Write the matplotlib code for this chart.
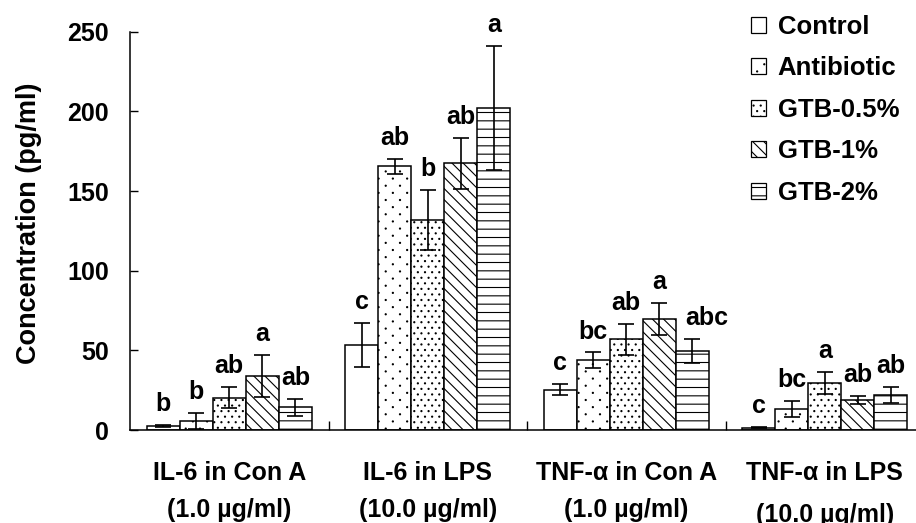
import numpy as np
import matplotlib
matplotlib.use("Agg")
import matplotlib.pyplot as plt
import matplotlib.hatch as mhatch
from matplotlib.path import Path
from matplotlib.patches import Patch

plt.rcParams['font.family'] = ['Liberation Sans', 'DejaVu Sans']
plt.rcParams['font.weight'] = 'bold'
plt.rcParams['hatch.linewidth'] = 0.8


class DotLattice(mhatch.HatchPatternBase):
    """Staggered dot pattern: '.' sparse, '..' dense."""
    def __init__(self, hatch, density):
        n = hatch.count('.')
        if n == 1:
            self.rows, self.cols = 14, 7
        elif n >= 2:
            self.rows, self.cols = 18, 14
        else:
            self.rows, self.cols = 0, 0
        circ = Path.unit_circle()
        self.cv, self.cc = circ.vertices, circ.codes
        pts = []
        if self.rows > 0:
            for r in range(self.rows + 1):
                y = r / self.rows
                if r % 2 == 0:
                    xs_ = np.linspace(0, 1, self.cols + 1)
                else:
                    xs_ = (np.arange(self.cols) + 0.5) / self.cols
                pts += [(x, y) for x in xs_]
        self.pts = pts
        self.num_vertices = len(pts) * len(self.cv)

    def set_vertices_and_codes(self, vertices, codes):
        k = len(self.cv)
        rad = 0.0055
        for i, (x, y) in enumerate(self.pts):
            vertices[i * k:(i + 1) * k] = self.cv * rad + (x, y)
            codes[i * k:(i + 1) * k] = self.cc


mhatch._hatch_types = [t for t in mhatch._hatch_types
                       if t is not mhatch.SmallFilledCircles] + [DotLattice]

groups = ["IL-6 in Con A\n(1.0 µg/ml)", "IL-6 in LPS\n(10.0 µg/ml)",
          "TNF-α in Con A\n(1.0 µg/ml)", "TNF-α in LPS\n(10.0 µg/ml)"]
series = ["Control", "Antibiotic", "GTB-0.5%", "GTB-1%", "GTB-2%"]

control = [2.5, 53.3, 25.3, 1.5]
antibiotic = [5.6, 165.4, 43.7, 13.2]
gtb05 = [20.3, 131.7, 56.9, 29.5]
gtb1 = [34.0, 167.5, 69.8, 18.8]
gtb2 = [14.2, 202.2, 49.4, 22.0]

control_err = [0.8, 13.7, 3.5, 0.5]
antibiotic_err = [5.0, 5.0, 5.0, 5.0]
gtb05_err = [6.5, 19.0, 9.7, 7.2]
gtb1_err = [13.0, 16.0, 10.0, 2.5]
gtb2_err = [5.5, 39.0, 7.5, 4.8]

control_sig = ["b", "c", "c", "c"]
antibiotic_sig = ["b", "ab", "bc", "bc"]
gtb05_sig = ["ab", "b", "ab", "a"]
gtb1_sig = ["a", "ab", "a", "ab"]
gtb2_sig = ["ab", "a", "abc", "ab"]

values = [control, antibiotic, gtb05, gtb1, gtb2]
errors = [control_err, antibiotic_err, gtb05_err, gtb1_err, gtb2_err]
sigs = [control_sig, antibiotic_sig, gtb05_sig, gtb1_sig, gtb2_sig]
hatches = ["", ".", "..", "\\\\\\", "--"]

W, H = 916, 523
fig = plt.figure(figsize=(W / 100, H / 100), dpi=100)
x0, unit = 130.0, 198.5
ax = fig.add_axes([x0 / W, (H - 430) / H, 4 * unit / W, (430 - 31.7) / H])

bw = 1 / 6
xs = np.arange(len(groups)) + 0.5
for i, (vals, errs, sg, hat) in enumerate(zip(values, errors, sigs, hatches)):
    pos = xs + (i - 2) * bw
    ax.bar(pos, vals, width=bw, color="white", edgecolor="black",
           linewidth=1.1, hatch=hat, label=series[i], zorder=2)
    ax.errorbar(pos, vals, yerr=errs, fmt="none", ecolor="black",
                elinewidth=1.2, capsize=5.5, capthick=1.2, zorder=3)
    for p, v, e, s in zip(pos, vals, errs, sg):
        dx = 10 if s == "abc" else 0
        ax.annotate(s, (p, v + e), xytext=(dx, 10), textcoords="offset points",
                    ha="center", va="baseline", fontsize=18, fontweight="bold")

ax.set_xlim(0, 4)
ax.set_ylim(0, 250)
ax.set_yticks([0, 50, 100, 150, 200, 250])
ax.tick_params(axis="y", direction="in", length=6, width=1, labelsize=18, pad=15)
ax.set_xticks([1, 2, 3])
ax.set_xticklabels([])
ax.tick_params(axis="x", which="major", direction="in", length=6.5, width=1)
ax.set_xticks(xs, minor=True)
ax.set_xticklabels(groups, minor=True, fontsize=18, fontweight="bold")
ax.tick_params(axis="x", which="minor", length=0, pad=22)
for t in ax.get_xticklabels(minor=True):
    t.set_linespacing(1.72)
ax.get_xticklabels(minor=True)[3].set_linespacing(1.95)

for s in ["top", "right"]:
    ax.spines[s].set_visible(False)
for s in ["left", "bottom"]:
    ax.spines[s].set_linewidth(1.1)

ax.set_ylabel("Concentration (pg/ml)", fontsize=19.5, fontweight="bold")
ax.yaxis.set_label_coords((42 - x0) / (4 * unit), (430 - 223.5) / (430 - 31.7))

handles = [Patch(facecolor="white", edgecolor="black", hatch=h, linewidth=0.9) for h in hatches]
leg = ax.legend(handles, series, loc="upper left", bbox_to_anchor=(738 / W, (H - 2) / H),
                bbox_transform=fig.transFigure, frameon=False, fontsize=18.5,
                handlelength=0.6, handleheight=0.6, handletextpad=0.45,
                labelspacing=0.68, borderaxespad=0.3, borderpad=0.2)
for t in leg.get_texts():
    t.set_fontweight("bold")

fig.savefig("out.png", dpi=100)
